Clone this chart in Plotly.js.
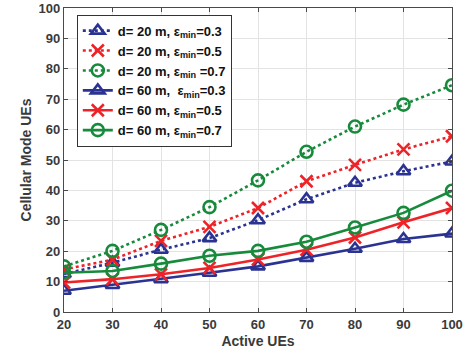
<!DOCTYPE html>
<html><head><meta charset="utf-8">
<script src="https://cdn.plot.ly/plotly-3.0.1.min.js"></script>
<style>html,body{margin:0;padding:0;background:#fff}#chart{width:473px;height:360px}</style>
</head><body><div id="chart"></div>
<script>
const activeUEs = [20, 30, 40, 50, 60, 70, 80, 90, 100];
const d20_e03 = [12.5, 16.2, 20.5, 24.3, 30.2, 37.1, 42.5, 46.3, 49.5];
const d20_e05 = [14, 17.2, 23.4, 28, 34.2, 43, 48.4, 53.5, 57.8];
const d20_e07 = [15, 20.1, 27, 34.5, 43.3, 52.7, 61, 68.2, 74.6];
const d60_e03 = [7, 8.9, 10.8, 12.9, 15, 17.8, 20.8, 24, 25.8];
const d60_e05 = [9.7, 10.8, 12.4, 14.5, 17.3, 20.5, 24.5, 29.5, 34.2];
const d60_e07 = [12.9, 13.5, 15.9, 18.5, 20.1, 23.1, 27.8, 32.6, 39.9];
const seriesNames = [
  'd= 20 m, \u03b5<sub>min</sub>=0.3',
  'd= 20 m, \u03b5<sub>min</sub>=0.5',
  'd= 20 m, \u03b5<sub>min</sub> =0.7',
  'd= 60 m,  \u03b5<sub>min</sub>=0.3',
  'd= 60 m, \u03b5<sub>min</sub>=0.5',
  'd= 60 m, \u03b5<sub>min</sub>=0.7'
];
const blue = '#2B3392', red = '#EE2328', green = '#178A3C';
function tr(y, name, color, dash, symbol) {
  return {x: activeUEs, y: y, name: name, type: 'scatter', mode: 'lines+markers',
    line: {color: color, width: 2.6, dash: dash},
    marker: {symbol: symbol, size: 12, color: color, line: {color: color, width: 2.6}}};
}
const data = [
  tr(d20_e03, seriesNames[0], blue, 'dot', 'triangle-up-open'),
  tr(d20_e05, seriesNames[1], red, 'dot', 'x-thin-open'),
  tr(d20_e07, seriesNames[2], green, 'dot', 'circle-open'),
  tr(d60_e03, seriesNames[3], blue, 'solid', 'triangle-up-open'),
  tr(d60_e05, seriesNames[4], red, 'solid', 'x-thin-open'),
  tr(d60_e07, seriesNames[5], green, 'solid', 'circle-open')
];
const axFont = {family: 'Liberation Sans, Arial, sans-serif', size: 13, color: '#3a3a3a', weight: 'bold'};
const layout = {
  width: 473, height: 360,
  margin: {l: 64, r: 21, t: 8, b: 48},
  paper_bgcolor: '#fff', plot_bgcolor: '#fff',
  showlegend: true,
  font: {family: 'Liberation Sans, Arial, sans-serif'},
  xaxis: {range: [20, 100], tickvals: activeUEs, ticktext: activeUEs.map(String),
    showgrid: true, gridcolor: '#e3e3e3', gridwidth: 1, zeroline: false,
    showline: true, linecolor: '#4a4a4a', linewidth: 1.2, mirror: 'ticks',
    ticks: 'inside', ticklen: 4, tickcolor: '#4a4a4a', tickfont: axFont,
    title: {text: 'Active UEs', font: {family: 'Liberation Sans, Arial, sans-serif', size: 14, color: '#3a3a3a', weight: 'bold'}, standoff: 5}},
  yaxis: {range: [0, 100], dtick: 10,
    showgrid: true, gridcolor: '#e3e3e3', gridwidth: 1, zeroline: false,
    showline: true, linecolor: '#4a4a4a', linewidth: 1.2, mirror: 'ticks',
    ticks: 'inside', ticklen: 4, tickcolor: '#4a4a4a', tickfont: axFont,
    title: {text: 'Cellular Mode UEs', font: {family: 'Liberation Sans, Arial, sans-serif', size: 14, color: '#3a3a3a', weight: 'bold'}, standoff: 3}},
  legend: {x: 0.033, y: 0.978, xanchor: 'left', yanchor: 'top',
    bgcolor: '#fff', bordercolor: '#333', borderwidth: 1,
    font: {family: 'Liberation Sans, Arial, sans-serif', size: 13, color: '#111', weight: 'bold'},
    itemwidth: 30, tracegroupgap: 0}
};
Plotly.newPlot('chart', data, layout, {displayModeBar: false, staticPlot: true});
</script></body></html>
